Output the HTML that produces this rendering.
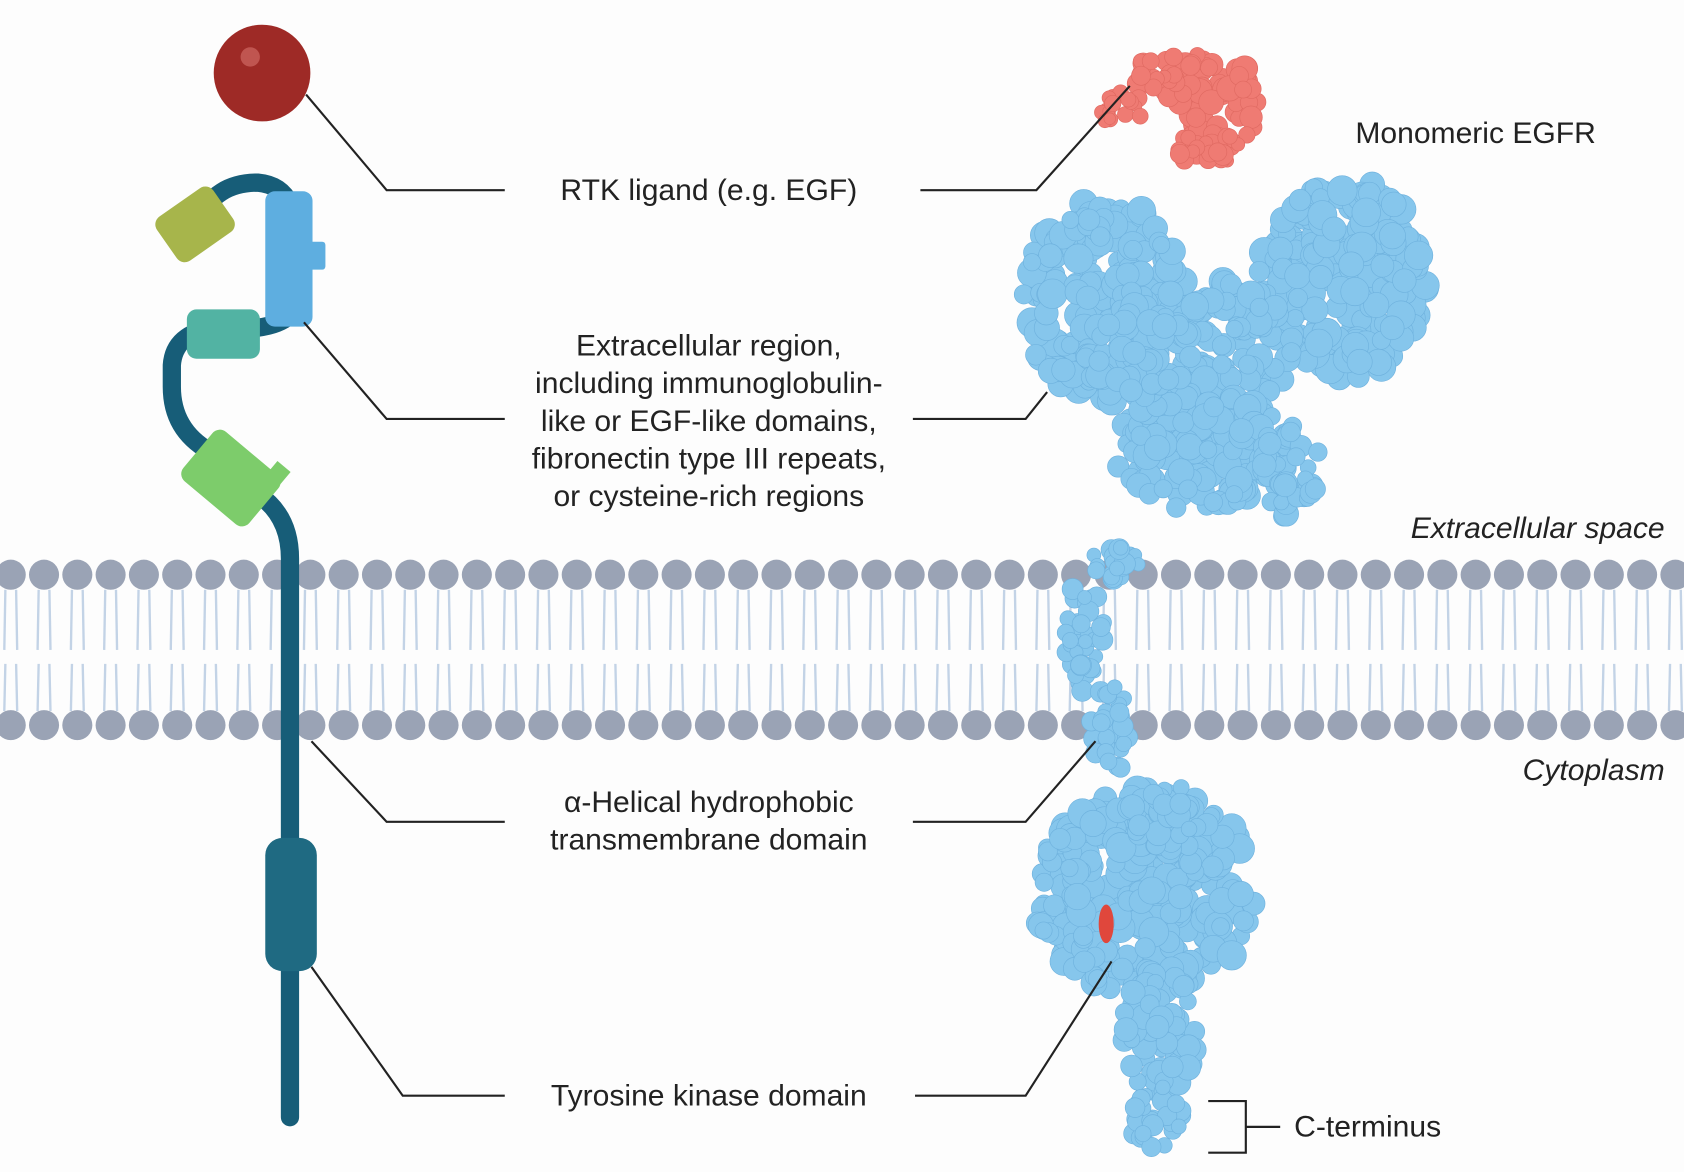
<!DOCTYPE html>
<html><head><meta charset="utf-8">
<style>
html,body{margin:0;padding:0;background:#fdfdfd;}
svg{display:block;}
text{font-family:"Liberation Sans",sans-serif;fill:#222;font-size:28px;}
</style></head>
<body>
<svg id="s" width="1684" height="1172" viewBox="0 0 1568 1091" preserveAspectRatio="none" xmlns="http://www.w3.org/2000/svg">
<rect width="1568" height="1091" fill="#fdfdfd"/>
<g id="mem"></g>
<g id="prot"></g>
<!-- left schematic -->
<g fill="none" stroke="#175d78" stroke-width="17" stroke-linecap="round">
<path d="M270,1040 L270,520 Q270,480 240,460"/>
<path d="M195,420 Q160,400 160,360 L160,340 Q162,310 200,305"/>
<path d="M240,305 Q280,300 278,270"/>
<path d="M185,205 Q200,170 240,170 Q262,172 270,190"/>
</g>
<rect x="247" y="780" width="48" height="124" rx="16" fill="#1f6a82"/>
<g transform="rotate(40 215 445)"><rect x="175" y="415" width="80" height="60" rx="9" fill="#7dcc6b"/><rect x="238" y="405" width="16" height="20" fill="#7dcc6b"/></g>
<rect x="174" y="288" width="68" height="46" rx="9" fill="#52b3a3"/>
<rect x="247" y="178" width="44" height="126" rx="9" fill="#5eaee0"/>
<rect x="285" y="225" width="18" height="26" rx="3" fill="#5eaee0"/>
<g transform="rotate(-35 180 210)"><rect x="150" y="185" width="64" height="50" rx="9" fill="#a7b54b"/></g>
<circle cx="244" cy="68" r="45" fill="#9e2a26"/>
<circle cx="233" cy="53" r="9" fill="#c05550"/>
<!-- leaders -->
<g fill="none" stroke="#222" stroke-width="2">
<path d="M285,88 L360,177 L470,177"/><path d="M857,177 L965,177 L1052,80"/>
<path d="M283,300 L360,390 L470,390"/><path d="M850,390 L955,390 L975,365"/>
<path d="M290,690 L360,765 L470,765"/><path d="M850,765 L955,765 L1020,690"/>
<path d="M290,900 L375,1020 L470,1020"/><path d="M852,1020 L955,1020 L1035,895"/>
<path d="M1125,1025 L1160,1025 L1160,1073 L1125,1073 M1160,1049 L1192,1049"/>
</g>
<g text-anchor="middle">
<text x="660" y="186">RTK ligand (e.g. EGF)</text>
<text x="660" y="331">Extracellular region,</text>
<text x="660" y="366">including immunoglobulin-</text>
<text x="660" y="401">like or EGF-like domains,</text>
<text x="660" y="436">fibronectin type III repeats,</text>
<text x="660" y="471">or cysteine-rich regions</text>
<text x="660" y="756">α-Helical hydrophobic</text>
<text x="660" y="791">transmembrane domain</text>
<text x="660" y="1029">Tyrosine kinase domain</text>
</g>
<text x="1262" y="133">Monomeric EGFR</text>
<text x="1550" y="501" text-anchor="end" font-style="italic" font-size="29">Extracellular space</text>
<text x="1550" y="726" text-anchor="end" font-style="italic" font-size="29">Cytoplasm</text>
<text x="1205" y="1058">C-terminus</text>
</svg>
<script>
var NS="http://www.w3.org/2000/svg";
function el(p,t,a){var e=document.createElementNS(NS,t);for(var k in a)e.setAttribute(k,a[k]);p.appendChild(e);return e;}
var mem=document.getElementById('mem');
for(var x=10;x<1580;x+=31){
 [[x-5,549,x-6,605],[x+5,549,x+6,605],[x-5,618,x-6,662],[x+5,618,x+6,662]].forEach(function(l){el(mem,'line',{x1:l[0],y1:l[1],x2:l[2],y2:l[3],stroke:'#c3d3e6','stroke-width':2.2});});
 el(mem,'circle',{cx:x,cy:535,r:14,fill:'#9aa3b5'});
 el(mem,'circle',{cx:x,cy:675,r:14,fill:'#9aa3b5'});
}
var seed=7;function rnd(){seed=(seed*16807)%2147483647;return seed/2147483647;}
var pr=document.getElementById('prot');
function blob(cx,cy,rx,ry,n,col,rmin,rmax,sc){for(var i=0;i<n;i++){var a=rnd()*6.283,d=Math.sqrt(rnd());el(pr,'circle',{cx:cx+Math.cos(a)*rx*d,cy:cy+Math.sin(a)*ry*d,r:rmin+rnd()*(rmax-rmin),fill:col,stroke:sc||'#6fb2de','stroke-width':0.6});}}
var B='#86c6ec',R='#ef7b73',RS='#e06a62';
blob(1130,95,42,50,60,R,7,12,RS);blob(1085,70,30,22,30,R,6,10,RS);blob(1045,100,22,14,14,R,5,8,RS);blob(1030,112,10,6,4,R,5,7,RS);blob(1125,140,30,18,25,R,6,10,RS);
blob(1030,280,78,95,220,B,8,14);blob(1250,260,78,95,220,B,8,14);blob(1150,320,55,60,90,B,8,13);
blob(1120,420,85,55,160,B,8,13);blob(1200,440,30,45,40,B,7,12);blob(1060,330,50,50,60,B,8,13);
blob(1040,520,25,20,20,B,6,10);blob(1010,590,18,55,40,B,6,10);blob(1035,680,20,45,30,B,6,10);
blob(1065,830,105,95,300,B,8,14);blob(1090,760,40,30,40,B,7,12);blob(1080,960,35,60,70,B,7,12);blob(1075,1040,25,30,30,B,6,11);
el(pr,'ellipse',{cx:1030,cy:860,rx:7,ry:18,fill:'#e0473c'});
</script>
</body></html>
